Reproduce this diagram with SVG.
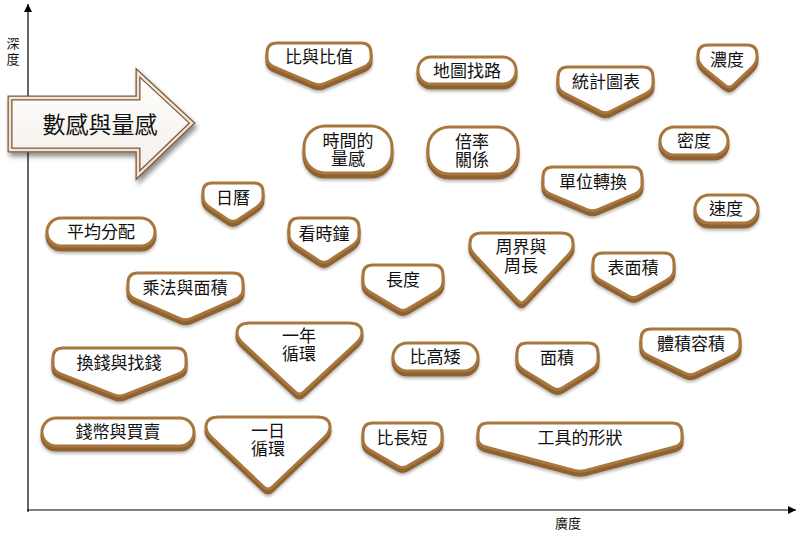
<svg xmlns="http://www.w3.org/2000/svg" width="806" height="536" viewBox="0 0 806 536">
<style>
.depth{fill:#8e6230;stroke:#8e6230;stroke-width:3;filter:url(#sh)}
.face{fill:#ffffff;stroke:#a8773d;stroke-width:3;stroke-linejoin:round}
.lbl{font-family:"Noto Sans CJK TC","Noto Sans CJK SC",sans-serif;font-size:17px;fill:#111;text-anchor:middle}
.ax{font-family:"Noto Sans CJK TC","Noto Sans CJK SC",sans-serif;font-size:13px;fill:#111;text-anchor:middle}
.axis{stroke:#000;stroke-width:1.2;fill:none}
</style>
<defs>
<filter id="sh" x="-20%" y="-20%" width="140%" height="160%"><feDropShadow dx="0" dy="2" stdDeviation="1.6" flood-color="#000" flood-opacity="0.3"/></filter>
<filter id="ash" x="-20%" y="-20%" width="140%" height="160%"><feDropShadow dx="2" dy="4" stdDeviation="2.5" flood-color="#000" flood-opacity="0.45"/></filter>
<linearGradient id="ag" x1="0" y1="0" x2="0" y2="1"><stop offset="0" stop-color="#ffffff"/><stop offset="1" stop-color="#f4efe8"/></linearGradient>
<marker id="ah" viewBox="0 0 10 10" refX="10" refY="5" markerWidth="8" markerHeight="8" markerUnits="userSpaceOnUse" orient="auto"><path d="M0,0 L10,5 L0,10 Z" fill="#000"/></marker>
<path id="s1" d="M277,43 H361 Q371,43 371,53 V58 Q371,64 363.6,67.1 L324.5,83.7 Q319,86 313.5,83.7 L274.4,67.1 Q267,64 267,58 V53 Q267,43 277,43 Z"/>
<path id="s2" d="M568,67 H643 Q653,67 653,77 V84 Q653,90 645.9,93.6 L610.9,111.3 Q605.5,114 600.1,111.3 L565.1,93.6 Q558,90 558,84 V77 Q558,67 568,67 Z"/>
<path id="s3" d="M708,45 H747 Q757,45 757,55 V57 Q757,63 751,68.3 L733.5,85 Q729,89 724.5,85 L704,68.3 Q698,63 698,57 V55 Q698,45 708,45 Z"/>
<path id="s4" d="M553,167 H632 Q642,167 642,177 V185 Q642,191 634.6,194.1 L598,209.7 Q592.5,212 587,209.7 L550.4,194.1 Q543,191 543,185 V177 Q543,167 553,167 Z"/>
<path id="s5" d="M212,183 H254 Q263,183 263,192 V197 Q263,203 256.3,207.4 L238,219.7 Q233,223 228,219.7 L209.7,207.4 Q203,203 203,197 V192 Q203,183 212,183 Z"/>
<path id="s6" d="M299,218 H349 Q359,218 359,228 V235 Q359,241 352.3,245.4 L329,260.7 Q324,264 319,260.7 L295.7,245.4 Q289,241 289,235 V228 Q289,218 299,218 Z"/>
<path id="s7" d="M603,253 H664 Q674,253 674,263 V270 Q674,276 667,280 L638.7,296 Q633.5,299 628.3,296 L600,280 Q593,276 593,270 V263 Q593,253 603,253 Z"/>
<path id="s8" d="M373,265 H433 Q443,265 443,275 V282 Q443,288 436.1,292.1 L408.1,308.9 Q403,312 397.9,308.9 L369.9,292.1 Q363,288 363,282 V275 Q363,265 373,265 Z"/>
<path id="s9" d="M138,273 H233 Q243,273 243,283 V290 Q243,296 235.7,299.2 L191,318.6 Q185.5,321 180,318.6 L135.3,299.2 Q128,296 128,290 V283 Q128,273 138,273 Z"/>
<path id="s10" d="M63,348 H176 Q186,348 186,358 V365 Q186,371 178.5,373.9 L125.1,394.8 Q119.5,397 113.9,394.8 L60.5,373.9 Q53,371 53,365 V358 Q53,348 63,348 Z"/>
<path id="s11" d="M527,343 H588 Q598,343 598,353 V360 Q598,366 591.2,370.2 L562.6,387.9 Q557.5,391 552.4,387.9 L523.8,370.2 Q517,366 517,360 V353 Q517,343 527,343 Z"/>
<path id="s12" d="M651,329 H730 Q740,329 740,339 V346 Q740,352 732.8,355.5 L695.9,373.4 Q690.5,376 685.1,373.4 L648.2,355.5 Q641,352 641,346 V339 Q641,329 651,329 Z"/>
<path id="s13" d="M373,423 H432 Q442,423 442,433 V440 Q442,446 435.1,450 L407.7,466 Q402.5,469 397.3,466 L369.9,450 Q363,446 363,440 V433 Q363,423 373,423 Z"/>
<path id="s14" d="M488,423 H672 Q682,423 682,433 V439 Q682,445 674.3,447 L585.8,470.5 Q580,472 574.2,470.5 L485.7,447 Q478,445 478,439 V433 Q478,423 488,423 Z"/>
<path id="t1" d="M482,233 H561 Q573,233 573,243 V246 Q573,250 567.5,255.8 L525.6,300.6 Q521.5,305 517.4,300.6 L475.5,255.8 Q470,250 470,246 V243 Q470,233 482,233 Z"/>
<path id="t2" d="M250,323 H349 Q362,323 362,333 Q362,338 356.1,343.4 L303.9,391.9 Q299.5,396 295.1,391.9 L242.9,343.4 Q237,338 237,333 Q237,323 250,323 Z"/>
<path id="t3" d="M219,417 H317 Q330,417 330,427 Q330,432 324.2,437.5 L272.4,486.9 Q268,491 263.6,486.9 L211.8,437.5 Q206,432 206,427 Q206,417 219,417 Z"/>
<rect id="r1" x="418" y="57" width="98" height="27" rx="13"/>
<rect id="r2" x="660" y="127" width="68" height="28" rx="14"/>
<rect id="r3" x="695" y="195" width="63" height="28" rx="14"/>
<rect id="r4" x="47" y="218" width="108" height="28" rx="14"/>
<rect id="r5" x="393" y="343" width="85" height="28" rx="14"/>
<rect id="r6" x="42" y="418" width="152" height="28" rx="14"/>
<rect id="r7" x="304" y="126" width="88" height="47" rx="21"/>
<rect id="r8" x="428" y="127" width="90" height="47" rx="21"/>
</defs>

<g id="axes">
<line class="axis" x1="28" y1="512" x2="28" y2="4" marker-end="url(#ah)"/>
<line class="axis" x1="27" y1="510" x2="796" y2="510" marker-end="url(#ah)"/>
<text class="ax" x="13" y="48">深<tspan x="13" dy="16">度</tspan></text>
<text class="ax" x="568" y="528">廣度</text>
</g>

<g id="connectors"></g>

<g id="n-arrow">
<polygon points="10,98 138,98 138,73 192,123 138,175 138,150 10,150" fill="url(#ag)" stroke="#7d5a3c" stroke-width="5" stroke-linejoin="miter" filter="url(#ash)"/>
<polygon points="10,98 138,98 138,73 192,123 138,175 138,150 10,150" fill="none" stroke="#f1e6d6" stroke-width="2.4" stroke-linejoin="miter"/>
<text x="100" y="133" style="font-family:'Noto Sans CJK TC','Noto Sans CJK SC',sans-serif;font-size:23px;fill:#111;text-anchor:middle">數感與量感</text>
</g>

<g id="n-bibi"><use href="#s1" class="depth" y="4"/><use href="#s1" class="face"/><text class="lbl" x="319" y="63">比與比值</text></g>
<g id="n-map"><use href="#r1" class="depth" y="4"/><use href="#r1" class="face"/><text class="lbl" x="467" y="77">地圖找路</text></g>
<g id="n-stats"><use href="#s2" class="depth" y="4"/><use href="#s2" class="face"/><text class="lbl" x="606" y="88">統計圖表</text></g>
<g id="n-conc"><use href="#s3" class="depth" y="4"/><use href="#s3" class="face"/><text class="lbl" x="727" y="66">濃度</text></g>
<g id="n-timeq"><use href="#r7" class="depth" y="4"/><use href="#r7" class="face"/><text class="lbl" x="348" y="147">時間的<tspan x="348" dy="18">量感</tspan></text></g>
<g id="n-ratio"><use href="#r8" class="depth" y="4"/><use href="#r8" class="face"/><text class="lbl" x="472" y="148">倍率<tspan x="472" dy="18">關係</tspan></text></g>
<g id="n-density"><use href="#r2" class="depth" y="4"/><use href="#r2" class="face"/><text class="lbl" x="694" y="147">密度</text></g>
<g id="n-unit"><use href="#s4" class="depth" y="4"/><use href="#s4" class="face"/><text class="lbl" x="593" y="188">單位轉換</text></g>
<g id="n-cal"><use href="#s5" class="depth" y="4"/><use href="#s5" class="face"/><text class="lbl" x="233" y="204">日曆</text></g>
<g id="n-speed"><use href="#r3" class="depth" y="4"/><use href="#r3" class="face"/><text class="lbl" x="726" y="215">速度</text></g>
<g id="n-avg"><use href="#r4" class="depth" y="4"/><use href="#r4" class="face"/><text class="lbl" x="101" y="238">平均分配</text></g>
<g id="n-clock"><use href="#s6" class="depth" y="4"/><use href="#s6" class="face"/><text class="lbl" x="324" y="240">看時鐘</text></g>
<g id="n-perim"><use href="#t1" class="depth" y="4"/><use href="#t1" class="face"/><text class="lbl" x="521" y="253">周界與<tspan x="521" dy="19">周長</tspan></text></g>
<g id="n-surf"><use href="#s7" class="depth" y="4"/><use href="#s7" class="face"/><text class="lbl" x="633" y="274">表面積</text></g>
<g id="n-length"><use href="#s8" class="depth" y="4"/><use href="#s8" class="face"/><text class="lbl" x="403" y="286">長度</text></g>
<g id="n-mult"><use href="#s9" class="depth" y="4"/><use href="#s9" class="face"/><text class="lbl" x="185" y="294">乘法與面積</text></g>
<g id="n-year"><use href="#t2" class="depth" y="4"/><use href="#t2" class="face"/><text class="lbl" x="299" y="342">一年<tspan x="299" dy="18">循環</tspan></text></g>
<g id="n-height"><use href="#r5" class="depth" y="4"/><use href="#r5" class="face"/><text class="lbl" x="435" y="363">比高矮</text></g>
<g id="n-area"><use href="#s11" class="depth" y="4"/><use href="#s11" class="face"/><text class="lbl" x="557" y="364">面積</text></g>
<g id="n-vol"><use href="#s12" class="depth" y="4"/><use href="#s12" class="face"/><text class="lbl" x="691" y="350">體積容積</text></g>
<g id="n-change"><use href="#s10" class="depth" y="4"/><use href="#s10" class="face"/><text class="lbl" x="119" y="369">換錢與找錢</text></g>
<g id="n-coins"><use href="#r6" class="depth" y="4"/><use href="#r6" class="face"/><text class="lbl" x="118" y="438">錢幣與買賣</text></g>
<g id="n-day"><use href="#t3" class="depth" y="4"/><use href="#t3" class="face"/><text class="lbl" x="268" y="437">一日<tspan x="268" dy="18">循環</tspan></text></g>
<g id="n-short"><use href="#s13" class="depth" y="4"/><use href="#s13" class="face"/><text class="lbl" x="402" y="444">比長短</text></g>
<g id="n-tools"><use href="#s14" class="depth" y="4"/><use href="#s14" class="face"/><text class="lbl" x="580" y="444">工具的形狀</text></g>
</svg>
